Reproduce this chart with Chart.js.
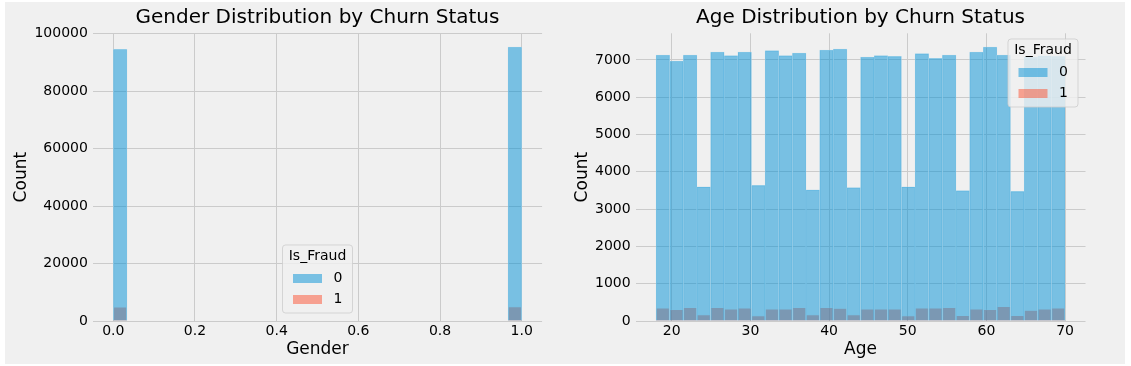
<!DOCTYPE html>
<html>
<head>
<meta charset="utf-8">
<script src="https://cdn.jsdelivr.net/npm/chart.js@4.4.0/dist/chart.umd.min.js"></script>
<style>
  html, body { margin: 0; padding: 0; background: #fff; }
  #fig { position: relative; width: 1131px; height: 366px; }
  #bg { position: absolute; left: 5px; top: 2px; width: 1120px; height: 362px; background: #f0f0f0; }
  canvas { position: absolute; top: 0; }
</style>
</head>
<body>
<div id="fig">
  <div id="bg"></div>
  <canvas id="gender" width="565" height="366" style="left:0"></canvas>
  <canvas id="age" width="566" height="366" style="left:565px"></canvas>
</div>
<script>
// ============================================================
// Data
// ============================================================

const fraudLevels = ['0', '1'];

// Gender histogram: 30 bins over [0, 1], only first and last bin hold data
const genderRange = [0, 1];
const genderNotFraud = [94530, 0, 0, 0, 0, 0, 0, 0, 0, 0, 0, 0, 0, 0, 0,
                        0, 0, 0, 0, 0, 0, 0, 0, 0, 0, 0, 0, 0, 0, 95320];
const genderFraud    = [4750, 0, 0, 0, 0, 0, 0, 0, 0, 0, 0, 0, 0, 0, 0,
                        0, 0, 0, 0, 0, 0, 0, 0, 0, 0, 0, 0, 0, 0, 4850];
const genderXTicks = [0, 0.2, 0.4, 0.6, 0.8, 1.0];
const genderYTicks = [0, 20000, 40000, 60000, 80000, 100000];

// Age histogram: 30 bins over [18, 70]
const ageRange = [18, 70];
const ageNotFraud = [7134, 6973, 7134, 3595, 7214, 7116, 7214, 3635, 7250, 7116,
                     7187, 3520, 7268, 7295, 3575, 7080, 7116, 7098, 3598, 7170,
                     7045, 7134, 3495, 7214, 7348, 7134, 3475, 7080, 7110, 7100];
const ageFraud    = [340, 300, 355, 160, 355, 315, 340, 135, 315, 315,
                     355, 160, 355, 330, 160, 315, 315, 315, 135, 340,
                     340, 355, 140, 315, 300, 380, 140, 280, 315, 340];
const ageXTicks = [20, 30, 40, 50, 60, 70];
const ageYTicks = [0, 1000, 2000, 3000, 4000, 5000, 6000, 7000];

// ============================================================
// Helpers
// ============================================================

const BLUE = 'rgba(0,143,213,0.5)';
const RED  = 'rgba(252,79,48,0.5)';
const FONT = "'DejaVu Sans', sans-serif";

function binCenters(range, n) {
  const w = (range[1] - range[0]) / n;
  return Array.from({ length: n }, (_, i) => range[0] + (i + 0.5) * w);
}
function toPoints(centers, counts) {
  return counts.map((c, i) => ({ x: centers[i], y: c > 0 ? c : null }));
}

// legend drawn inside the axes, like matplotlib's
const fraudLegend = {
  id: 'fraudLegend',
  afterDraw(chart, args, opts) {
    const ctx = chart.ctx, a = chart.chartArea;
    const w = 70, h = 68;
    let x, y;
    if (opts.loc === 'lower center') { x = (a.left + a.right) / 2 - w / 2; y = a.bottom - 8 - h; }
    else { x = a.right - 7.5 - w; y = a.top + 5.7; }
    ctx.save();
    ctx.beginPath();
    ctx.roundRect(x, y, w, h, 3);
    ctx.fillStyle = 'rgba(240,240,240,0.8)';
    ctx.fill();
    ctx.strokeStyle = 'rgba(204,204,204,0.8)';
    ctx.lineWidth = 1;
    ctx.stroke();
    ctx.fillStyle = '#000';
    ctx.font = '14px ' + FONT;
    ctx.textBaseline = 'middle';
    ctx.textAlign = 'center';
    ctx.fillText('Is_Fraud', x + w / 2, y + 11);
    ctx.textAlign = 'left';
    chart.data.datasets.forEach((ds, i) => {
      const cy = y + 33.5 + i * 21;
      ctx.fillStyle = ds.backgroundColor;
      ctx.fillRect(x + 10.5, cy - 4.5, 29, 9);
      ctx.fillStyle = '#000';
      ctx.fillText(ds.label, x + 51, cy);
    });
    ctx.restore();
  }
};

function histChart(id, c) {
  const centers = binCenters(c.range, c.notFraud.length);
  const span = c.range[1] - c.range[0];
  const yMax = Math.max(...c.notFraud, ...c.fraud) * 1.05;
  const grid = { color: '#cbcbcb', lineWidth: 1, drawTicks: false, offset: false };
  const bar = { grouped: false, barPercentage: 1, categoryPercentage: 1, borderWidth: 0.5 };

  return new Chart(document.getElementById(id), {
    type: 'bar',
    data: {
      datasets: [
        { ...bar, label: fraudLevels[0], data: toPoints(centers, c.notFraud),
          backgroundColor: BLUE, borderColor: 'rgba(180,216,234,0.85)' },
        { ...bar, label: fraudLevels[1], data: toPoints(centers, c.fraud),
          backgroundColor: RED, borderColor: 'rgba(240,240,240,0.6)' }
      ]
    },
    options: {
      responsive: false,
      animation: false,
      devicePixelRatio: 1,
      layout: { padding: { left: 0, top: 0, right: c.padRight, bottom: 0 } },
      scales: {
        x: {
          type: 'linear',
          min: c.range[0] - 0.05 * span,
          max: c.range[1] + 0.05 * span,
          offset: false,
          grid,
          border: { display: false },
          ticks: { font: { family: FONT, size: 14 }, color: '#000', padding: 2,
                   maxRotation: 0, autoSkip: false, callback: c.xFmt },
          title: { display: true, text: c.xLabel, color: '#000',
                   font: { family: FONT, size: 17 }, padding: { top: 0, bottom: 6 } },
          afterBuildTicks: s => { s.ticks = c.xTicks.map(v => ({ value: v })); },
          afterFit: s => { s.height = 45; }
        },
        y: {
          min: 0,
          max: yMax,
          grid,
          border: { display: false },
          ticks: { font: { family: FONT, size: 14 }, color: '#000', padding: 5,
                   callback: v => String(v) },
          title: { display: true, text: 'Count', color: '#000',
                   font: { family: FONT, size: 17 }, padding: { top: c.countPad, bottom: 0 } },
          afterBuildTicks: s => { s.ticks = c.yTicks.map(v => ({ value: v })); },
          afterFit: s => { s.width = c.yWidth; }
        }
      },
      plugins: {
        title: { display: true, text: c.title, color: '#000', fullSize: false,
                 font: { family: FONT, size: 20, weight: 'normal' },
                 padding: { top: 6, bottom: 3.3 } },
        legend: { display: false },
        tooltip: { enabled: false },
        fraudLegend: { loc: c.legendLoc }
      }
    },
    plugins: [fraudLegend]
  });
}

histChart('gender', {
  range: genderRange, notFraud: genderNotFraud, fraud: genderFraud,
  xTicks: genderXTicks, yTicks: genderYTicks, xFmt: v => v.toFixed(1),
  title: 'Gender Distribution by Churn Status', xLabel: 'Gender',
  yWidth: 92.9, countPad: 11, padRight: 22.9, legendLoc: 'lower center'
});

histChart('age', {
  range: ageRange, notFraud: ageNotFraud, fraud: ageFraud,
  xTicks: ageXTicks, yTicks: ageYTicks, xFmt: v => String(v),
  title: 'Age Distribution by Churn Status', xLabel: 'Age',
  yWidth: 70.6, countPad: 7, padRight: 45.5, legendLoc: 'upper right'
});
</script>
</body>
</html>
